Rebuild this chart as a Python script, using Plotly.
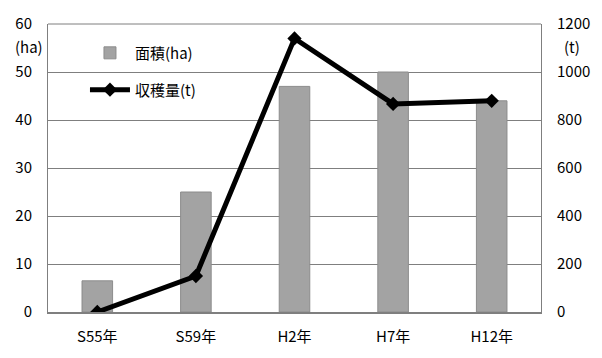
import plotly.graph_objects as go

categories = ["S55年", "S59年", "H2年", "H7年", "H12年"]
area_ha = [6.5, 25, 47, 50, 44]
harvest_t = [0, 150, 1140, 867, 880]

left_ticks = [0, 10, 20, 30, 40, 50, 60]
right_ticks = [0, 200, 400, 600, 800, 1000, 1200]

FONT = "Noto Sans CJK JP"

fig = go.Figure()
fig.add_trace(go.Bar(
    x=categories, y=area_ha, name="面積(ha)",
    marker=dict(color="#a3a3a3", line=dict(color="#8c8c8c", width=1)),
    width=0.31, yaxis="y", legend="legend",
))
fig.add_trace(go.Scatter(
    x=categories, y=harvest_t, name="収穫量(t)", mode="lines+markers",
    line=dict(color="black", width=5),
    marker=dict(symbol="diamond", size=11, color="black"),
    yaxis="y2", legend="legend2",
))

fig.update_layout(
    width=602, height=358,
    margin=dict(l=48, r=57, t=24, b=46),
    paper_bgcolor="white", plot_bgcolor="white",
    font=dict(family=FONT, size=15, color="black"),
    showlegend=True,
    legend=dict(x=0.075, y=0.899, xanchor="left", yanchor="middle",
                bgcolor="rgba(0,0,0,0)", font=dict(size=15, family=FONT),
                itemwidth=40),
    legend2=dict(x=0.075, y=0.771, xanchor="left", yanchor="middle",
                 bgcolor="rgba(0,0,0,0)", font=dict(size=15, family=FONT),
                 itemwidth=40),
    xaxis=dict(showline=True, linecolor="#7f7f7f", linewidth=2, mirror=False,
               ticks="", tickfont=dict(size=15), fixedrange=True,
               ticklabelstandoff=10),
    yaxis=dict(range=[0, 60], tickvals=left_ticks, showgrid=True, gridcolor="#7f7f7f",
               gridwidth=1, showline=True, linecolor="#7f7f7f", linewidth=1,
               ticks="", tickfont=dict(size=15), zeroline=False,
               ticklabelstandoff=12),
    yaxis2=dict(range=[0, 1200], tickvals=right_ticks, overlaying="y", side="right",
                showgrid=False, showline=True, linecolor="#7f7f7f", linewidth=1,
                ticks="", tickfont=dict(size=15), zeroline=False,
                ticklabelstandoff=12),
    shapes=[dict(type="line", xref="paper", yref="paper", x0=0, x1=1, y0=1, y1=1,
                 line=dict(color="#7f7f7f", width=1))],
    annotations=[
        dict(text="(ha)", xref="paper", yref="paper", x=-0.038, y=0.965, showarrow=False,
             xanchor="center", yanchor="top", font=dict(size=15)),
        dict(text="(t)", xref="paper", yref="paper", x=1.062, y=0.965, showarrow=False,
             xanchor="center", yanchor="top", font=dict(size=15)),
    ],
)

fig.write_html("out.html")
